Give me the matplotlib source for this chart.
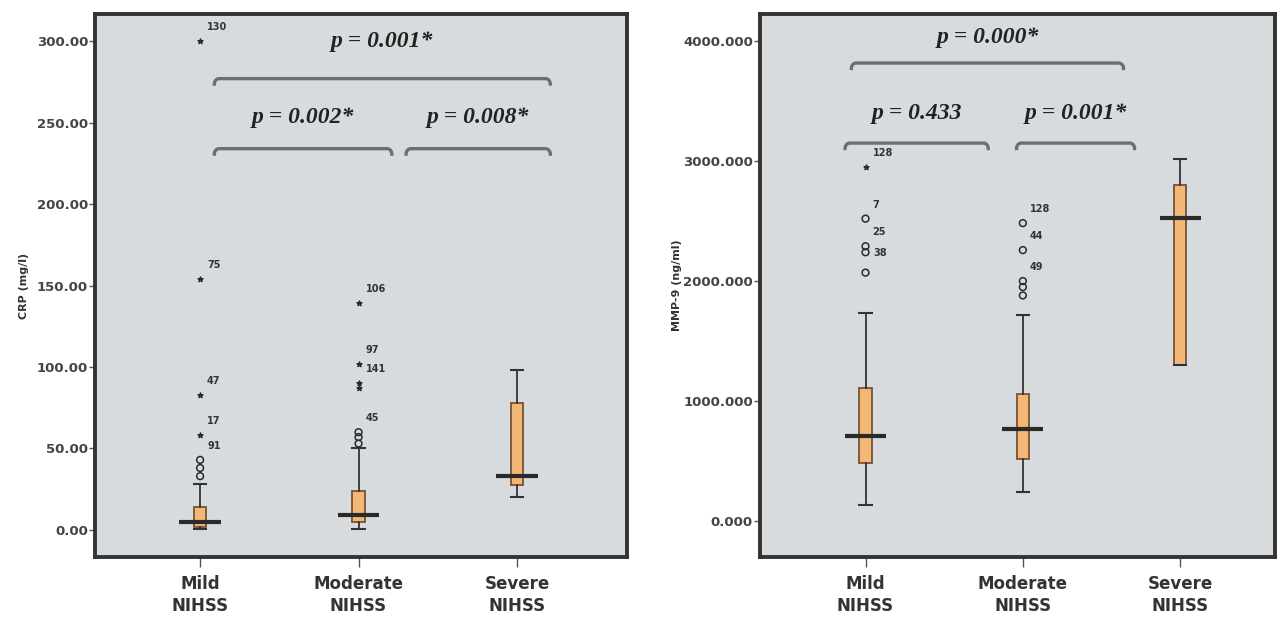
import numpy as np
import matplotlib
matplotlib.use("Agg")
import matplotlib.pyplot as plt

groups = ["Mild\nNIHSS", "Moderate\nNIHSS", "Severe\nNIHSS"]

# CRP (mg/l) box summaries
crp_whislo = [0.3, 0.5, 20]
crp_q1 = [2, 5, 27.5]
crp_med = [5, 9, 33]
crp_q3 = [14, 24, 78]
crp_whishi = [28, 50, 98]
crp_circles = [[33, 38, 43], [53, 57, 60], []]
crp_stars = [[58, 83, 154, 300], [87, 90, 102, 139], []]
crp_labels = [[(300, "130"), (154, "75"), (83, "47"), (58, "17"), (43, "91")],
              [(139, "106"), (102, "97"), (90, "141"), (60, "45")],
              []]
crp_pvals = [(1.09, 2.21, "p = 0.002*"), (2.3, 3.21, "p = 0.008*"), (1.09, 3.21, "p = 0.001*")]

# MMP-9 (ng/ml) box summaries
mmp_whislo = [133, 242, 1300]
mmp_q1 = [483, 517, 1300]
mmp_med = [708, 767, 2525]
mmp_q3 = [1108, 1058, 2800]
mmp_whishi = [1733, 1717, 3017]
mmp_circles = [[2070, 2240, 2290, 2520], [1880, 1950, 2000, 2258, 2483], []]
mmp_stars = [[2950], [], []]
mmp_labels = [[(2950, "128"), (2520, "7"), (2290, "25"), (2240, "38")],
              [(2483, "128"), (2258, "44"), (2000, "49")],
              []]
mmp_pvals = [(0.87, 1.78, "p = 0.433"), (1.96, 2.71, "p = 0.001*"), (0.91, 2.64, "p = 0.000*")]

box_face = "#f3b878"
box_edge = "#7a5230"
panel_bg = "#d8dbde"
dark = "#333333"

# labels that sit beside their point rather than above it
side_labels = {"38"}


def bracket(ax, x0, x1, y, hook_y, hook_x=0.03, **kw):
    t = np.linspace(0, np.pi / 2, 12)
    lx = x0 + hook_x * (1 - np.cos(t))
    ly = y - hook_y * (1 - np.sin(t))
    rx = x1 - hook_x * (1 - np.cos(t[::-1]))
    ry = y - hook_y * (1 - np.sin(t[::-1]))
    ax.plot(np.r_[lx, rx], np.r_[ly, ry], **kw)


def draw_panel(ax, whislo, q1, med, q3, whishi, circles, stars, labels, pvals,
               ylim, xlim, yticks, fmt, ylabel, brk, label_x):
    pos = np.arange(1, len(groups) + 1)
    stats = []
    for i in range(len(groups)):
        stats.append({"whislo": whislo[i], "q1": q1[i], "med": med[i],
                      "q3": q3[i], "whishi": whishi[i], "fliers": []})
    ax.bxp(stats, positions=pos, widths=0.08, patch_artist=True,
           showfliers=False,
           boxprops=dict(facecolor=box_face, edgecolor=box_edge, linewidth=1.3),
           whiskerprops=dict(color=dark, linewidth=1.3),
           capprops=dict(color=dark, linewidth=1.5),
           medianprops=dict(linewidth=0), capwidths=0.08, zorder=3)
    ax.hlines(med, pos - 0.13, pos + 0.13, color="#2a2a2a", linewidth=3, zorder=4)

    for i, p in enumerate(pos):
        if circles[i]:
            ax.scatter([p] * len(circles[i]), circles[i], s=24, facecolors="none",
                       edgecolors="#2a2a2a", linewidths=1.1, zorder=5)
        if stars[i]:
            ax.scatter([p] * len(stars[i]), stars[i], s=14, marker="*",
                       color="#2a2a2a", zorder=5)
        for v, lab in labels[i]:
            off = (6, -3) if lab in side_labels else (5, 8)
            ax.annotate(lab, (p, v), xytext=off, textcoords="offset points",
                        fontsize=7, fontweight="bold", color="#333333")

    ylo, yhi = ylim
    for j, (a, b, txt) in enumerate(pvals):
        yb, yt = brk[j]
        bracket(ax, a, b, yb, hook_y=(yhi - ylo) * 0.01,
                color="#6e6e6e", linewidth=2.4)
        ax.text((a + b) / 2, yt, txt, ha="center", va="center", fontsize=17,
                family="Liberation Serif", fontweight="bold", style="italic",
                color="#222222")

    ax.set_facecolor(panel_bg)
    ax.set_xlim(*xlim)
    ax.set_ylim(*ylim)
    ax.set_xticks(pos)
    ax.set_xticklabels(groups, fontsize=12, fontweight="bold", color=dark,
                       linespacing=1.3)
    ax.set_yticks(yticks)
    ax.set_yticklabels([fmt.format(v) for v in yticks], fontsize=9.5,
                       fontweight="bold", color="#444444")
    ax.tick_params(axis="y", direction="out", length=4, width=1, color="#555555", pad=1)
    ax.tick_params(axis="x", direction="out", length=7, width=1, color="#555555", pad=6)
    for s in ax.spines.values():
        s.set_linewidth(2.8)
        s.set_color("#333333")
    ax.set_ylabel(ylabel, fontsize=8, fontweight="bold", color="#333333")
    ax.yaxis.set_label_coords(label_x, 0.5)


fig = plt.figure(figsize=(12.77, 6.19), dpi=100)
ax1 = fig.add_axes([0.0744, 0.1002, 0.4166, 0.877])
ax2 = fig.add_axes([0.5951, 0.1002, 0.4030, 0.877])

draw_panel(ax1, crp_whislo, crp_q1, crp_med, crp_q3, crp_whishi,
           crp_circles, crp_stars, crp_labels, crp_pvals,
           ylim=(-16.6, 316.6), xlim=(0.337, 3.694),
           yticks=[0, 50, 100, 150, 200, 250, 300], fmt="{:.2f}",
           ylabel="CRP (mg/l)",
           brk=[(234, 253), (234, 253), (277, 300)], label_x=-0.125)

draw_panel(ax2, mmp_whislo, mmp_q1, mmp_med, mmp_q3, mmp_whishi,
           mmp_circles, mmp_stars, mmp_labels, mmp_pvals,
           ylim=(-300, 4225), xlim=(0.329, 3.60),
           yticks=[0, 1000, 2000, 3000, 4000], fmt="{:.3f}",
           ylabel="MMP-9 (ng/ml)",
           brk=[(3150, 3400), (3150, 3400), (3817, 4033)], label_x=-0.152)

fig.savefig("out.png", dpi=100, facecolor="white")
